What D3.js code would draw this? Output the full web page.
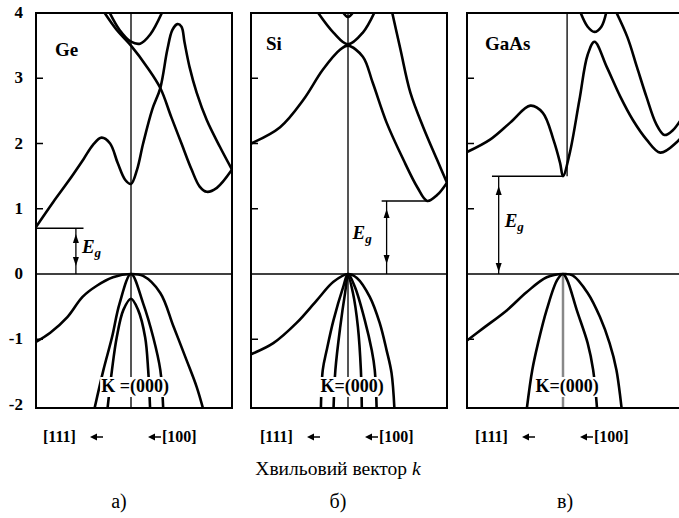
<!DOCTYPE html>
<html>
<head>
<meta charset="utf-8">
<script src="https://cdn.jsdelivr.net/npm/d3@7"></script>
<style>
body { margin: 0; background: #fff; }
svg { display: block; }
text { font-family: "Liberation Serif", "Times New Roman", serif; }
</style>
</head>
<body>
<script>
// energy axis, eV
var energyTicks = [4, 3, 2, 1, 0, -1, -2];
var materials = ["Ge", "Si", "GaAs"];
var panelLetters = ["а)", "б)", "в)"];
var gammaLabels = ["K =(000)", "K=(000)", "K=(000)"];
var gaps = [0.7, 1.12, 1.5];

// bands as [k, E]: k = -1 at L [111], 0 at Γ, 1 at X [100]
var geBands = [
	[[-1,0.72],[-0.82,1.1],[-0.66,1.42],[-0.5,1.76],[-0.4,1.98],[-0.31,2.09],[-0.22,2.0],[-0.14,1.7],[-0.06,1.44],[0,1.38],[0.06,1.6],[0.12,2.0],[0.21,2.52],[0.29,2.85],[0.36,3.44],[0.41,3.74],[0.46,3.83],[0.5,3.79],[0.53,3.55],[0.58,3.17],[0.65,2.78],[0.75,2.36],[0.88,1.95],[1,1.6]],
	[[-0.3,4.05],[-0.15,3.74],[0,3.5],[0.16,3.17],[0.29,2.85],[0.4,2.4],[0.5,2.0],[0.6,1.6],[0.68,1.34],[0.75,1.26],[0.85,1.32],[1,1.6]],
	[[-0.24,4.05],[-0.12,3.74],[0,3.56],[0.09,3.53],[0.19,3.67],[0.32,4.05]],
	[[-1,-1.04],[-0.85,-0.9],[-0.67,-0.66],[-0.51,-0.35],[-0.36,-0.18],[-0.19,-0.05],[0,0],[0.12,-0.03],[0.29,-0.29],[0.42,-0.8],[0.55,-1.32],[0.65,-1.73],[0.72,-2.1]],
	[[-0.39,-2.1],[-0.29,-1.47],[-0.2,-0.97],[-0.12,-0.45],[0,0],[0.12,-0.45],[0.22,-0.97],[0.29,-1.47],[0.32,-2.1]],
	[[-0.25,-2.1],[-0.2,-1.47],[-0.15,-0.97],[-0.08,-0.55],[0,-0.38],[0.07,-0.55],[0.14,-0.97],[0.17,-1.47],[0.19,-2.1]]
];

var siBands = [
	[[-1,2.0],[-0.7,2.25],[-0.46,2.67],[-0.26,3.13],[-0.08,3.44],[0,3.5],[0.15,3.33],[0.25,2.93],[0.39,2.32],[0.56,1.75],[0.7,1.33],[0.8,1.12],[0.9,1.21],[1,1.4]],
	[[0.44,4.05],[0.53,3.44],[0.63,2.78],[0.76,2.25],[0.9,1.75],[1,1.4]],
	[[-0.33,4.05],[-0.15,3.7],[0,3.52],[0.15,3.7],[0.28,4.05]],
	[[-0.07,4.05],[0,3.94],[0.07,4.05]],
	[[-1,-1.23],[-0.77,-1.06],[-0.53,-0.75],[-0.32,-0.4],[-0.15,-0.12],[0,0],[0.09,-0.06],[0.22,-0.35],[0.32,-0.75],[0.39,-1.17],[0.44,-1.52],[0.47,-2.1]],
	[[-0.28,-2.1],[-0.26,-1.47],[-0.22,-1.17],[-0.15,-0.71],[-0.05,-0.2],[0,0],[0.07,-0.2],[0.17,-0.71],[0.24,-1.17],[0.27,-1.47],[0.29,-2.1]],
	[[-0.15,-2.1],[-0.13,-1.47],[-0.08,-0.81],[-0.03,-0.29],[0,-0.03],[0.05,-0.29],[0.1,-0.81],[0.13,-1.47],[0.14,-2.1]]
];

var gaasBands = [
	[[-1,1.87],[-0.76,2.06],[-0.55,2.32],[-0.34,2.58],[-0.21,2.47],[-0.1,2.06],[-0.03,1.7],[0,1.5],[0.05,1.86],[0.12,2.67],[0.18,3.36],[0.23,3.56],[0.32,3.17],[0.42,2.71],[0.51,2.36],[0.61,2.06],[0.71,1.86],[0.83,2.02],[0.9,2.2]],
	[[0.38,4.05],[0.47,3.63],[0.54,3.17],[0.61,2.71],[0.68,2.3],[0.74,2.13],[0.8,2.2],[0.9,2.5]],
	[[0.12,4.05],[0.18,3.79],[0.23,3.71],[0.28,3.79],[0.32,4.05]],
	[[-1,-1.02],[-0.83,-0.83],[-0.58,-0.55],[-0.38,-0.28],[-0.17,-0.05],[0,0],[0.07,-0.02],[0.18,-0.29],[0.27,-0.66],[0.34,-1.06],[0.39,-1.47],[0.43,-2.1]],
	[[-0.38,-2.1],[-0.32,-1.47],[-0.26,-1.06],[-0.17,-0.55],[-0.06,-0.09],[0,0],[0.03,-0.09],[0.1,-0.55],[0.18,-1.06],[0.22,-1.47],[0.25,-2.1]]
];

var allBands = [geBands, siBands, gaasBands];

// layout
var W = 679, H = 518, yTop = 13, yBot = 408;
var panels = [
	{l: 36, c: 131, r: 232, gapFrom: -1, gapTo: -0.5, arrowK: -0.58, egDx: 6, upTip: 234, downTip: 266},
	{l: 251, c: 348, r: 447, gapFrom: 0.34, gapTo: 0.83, arrowK: 0.39, egDx: -34, upTip: 209, downTip: 264},
	{l: 467, c: 563, r: 700, gapFrom: -0.74, gapTo: 0, arrowK: -0.67, egDx: 6, upTip: 186, downTip: 272}
];
var nameX = [55, 266, 485], nameY = [56, 50, 50];

var svg = d3.select("body").append("svg").attr("width", W).attr("height", H);
var y = d3.scaleLinear().domain([0, 4]).range([274, yTop]);

// energy labels
svg.append("g").selectAll("text")
	.data(energyTicks)
	.enter().append("text")
		.attr("x", 23)
		.attr("y", function(d) { return y(d) + 5; })
		.attr("text-anchor", "end")
		.attr("font-weight", "bold")
		.attr("font-size", 17)
		.text(function(d) { return d; });

function arrowHead(g, x, tipY, dir) {
	g.append("path")
		.attr("d", "M" + x + "," + tipY + "l-3," + (-dir * 9) + "l6,0z")
		.attr("fill", "#000");
}

function drawPanel(p, i) {
	var x = d3.scaleLinear().domain([-1, 0, 1]).range([p.l, p.c, p.r]);
	var g = svg.append("g");

	g.append("clipPath").attr("id", "clip" + i)
		.append("rect")
			.attr("x", p.l).attr("y", yTop)
			.attr("width", p.r - p.l).attr("height", yBot - yTop);

	var inner = g.append("g").attr("clip-path", "url(#clip" + i + ")");

	// Γ line
	if (i == 2) {
		inner.append("line")
			.attr("x1", x(0.03)).attr("x2", x(0.03))
			.attr("y1", yTop).attr("y2", y(gaps[i]))
			.attr("stroke", "#222").attr("stroke-width", 1.5);
		inner.append("line")
			.attr("x1", x(0)).attr("x2", x(0))
			.attr("y1", y(0)).attr("y2", yBot)
			.attr("stroke", "#888").attr("stroke-width", 2.5);
	} else {
		inner.append("line")
			.attr("x1", x(0)).attr("x2", x(0))
			.attr("y1", yTop).attr("y2", yBot)
			.attr("stroke", "#555").attr("stroke-width", 2);
	}

	// valence band top
	inner.append("line")
		.attr("x1", p.l).attr("x2", p.r)
		.attr("y1", y(0)).attr("y2", y(0))
		.attr("stroke", "#000").attr("stroke-width", 1.6);

	var line = d3.line()
		.x(function(d) { return x(d[0]); })
		.y(function(d) { return y(d[1]); })
		.curve(d3.curveCatmullRom.alpha(0.5));

	inner.selectAll("path.band")
		.data(allBands[i])
		.enter().append("path")
			.attr("class", "band")
			.attr("d", line)
			.attr("fill", "none")
			.attr("stroke", "#000")
			.attr("stroke-width", 2.6)
			.attr("stroke-linejoin", "round");

	// frame and ticks
	g.append("rect")
		.attr("x", p.l).attr("y", yTop)
		.attr("width", p.r - p.l).attr("height", yBot - yTop)
		.attr("fill", "none").attr("stroke", "#000").attr("stroke-width", 2);

	g.selectAll("line.tick")
		.data(energyTicks.filter(function(d) { return d != 4 && d != 0 && d != -2; }))
		.enter().append("line")
			.attr("class", "tick")
			.attr("x1", p.l).attr("x2", p.l + 7)
			.attr("y1", function(d) { return y(d); })
			.attr("y2", function(d) { return y(d); })
			.attr("stroke", "#000").attr("stroke-width", 1.5);

	// band gap
	var ax = x(p.arrowK);
	g.append("line")
		.attr("x1", x(p.gapFrom)).attr("x2", x(p.gapTo))
		.attr("y1", y(gaps[i])).attr("y2", y(gaps[i]))
		.attr("stroke", "#000").attr("stroke-width", 1.5);
	g.append("line")
		.attr("x1", ax).attr("x2", ax)
		.attr("y1", y(gaps[i])).attr("y2", y(0))
		.attr("stroke", "#000").attr("stroke-width", 1.3);
	arrowHead(g, ax, p.upTip, -1);
	arrowHead(g, ax, p.downTip, 1);

	var eg = g.append("text")
		.attr("x", ax + p.egDx)
		.attr("y", (y(gaps[i]) + y(0)) / 2 + 2)
		.attr("font-weight", "bold").attr("font-style", "italic")
		.attr("font-size", 19);
	eg.append("tspan").text("E");
	eg.append("tspan").attr("dy", 4).attr("font-size", 13).text("g");

	g.append("text")
		.attr("x", nameX[i]).attr("y", nameY[i])
		.attr("font-weight", "bold").attr("font-size", 19)
		.text(materials[i]);

	// Γ label
	var kl = g.append("text")
		.attr("x", x(0) + 4).attr("y", 392)
		.attr("text-anchor", "middle")
		.attr("font-weight", "bold").attr("font-size", 18)
		.text(gammaLabels[i]);
	var bb = kl.node().getBBox();
	g.insert("rect", function() { return kl.node(); })
		.attr("x", bb.x - 1).attr("y", bb.y + 1)
		.attr("width", bb.width + 2).attr("height", bb.height - 1)
		.attr("fill", "#fff");

	// directions
	var c = x(0);
	g.append("text")
		.attr("x", c - 88).attr("y", 442)
		.attr("font-weight", "bold").attr("font-size", 16)
		.text("[111]");
	g.append("text")
		.attr("x", c + 31).attr("y", 442)
		.attr("font-weight", "bold").attr("font-size", 16)
		.text("[100]");
	[c - 41, c + 17].forEach(function(ax0) {
		g.append("line")
			.attr("x1", ax0 + 2).attr("x2", ax0 + 13)
			.attr("y1", 437).attr("y2", 437)
			.attr("stroke", "#000").attr("stroke-width", 1.5);
		g.append("path")
			.attr("d", "M" + ax0 + ",437l7,-3.5l0,7z")
			.attr("fill", "#000");
	});

	svg.append("text")
		.attr("x", c + (i == 0 ? -12 : (i == 1 ? -10 : 2))).attr("y", 508)
		.attr("text-anchor", "middle")
		.attr("font-family", "DejaVu Sans, sans-serif")
		.attr("font-size", 20)
		.text(panelLetters[i]);
}

panels.forEach(drawPanel);

var xl = svg.append("text")
	.attr("x", 338).attr("y", 475)
	.attr("text-anchor", "middle")
	.attr("font-size", 19.5);
xl.append("tspan").text("Хвильовий вектор ");
xl.append("tspan").attr("font-style", "italic").text("k");
</script>
</body>
</html>
